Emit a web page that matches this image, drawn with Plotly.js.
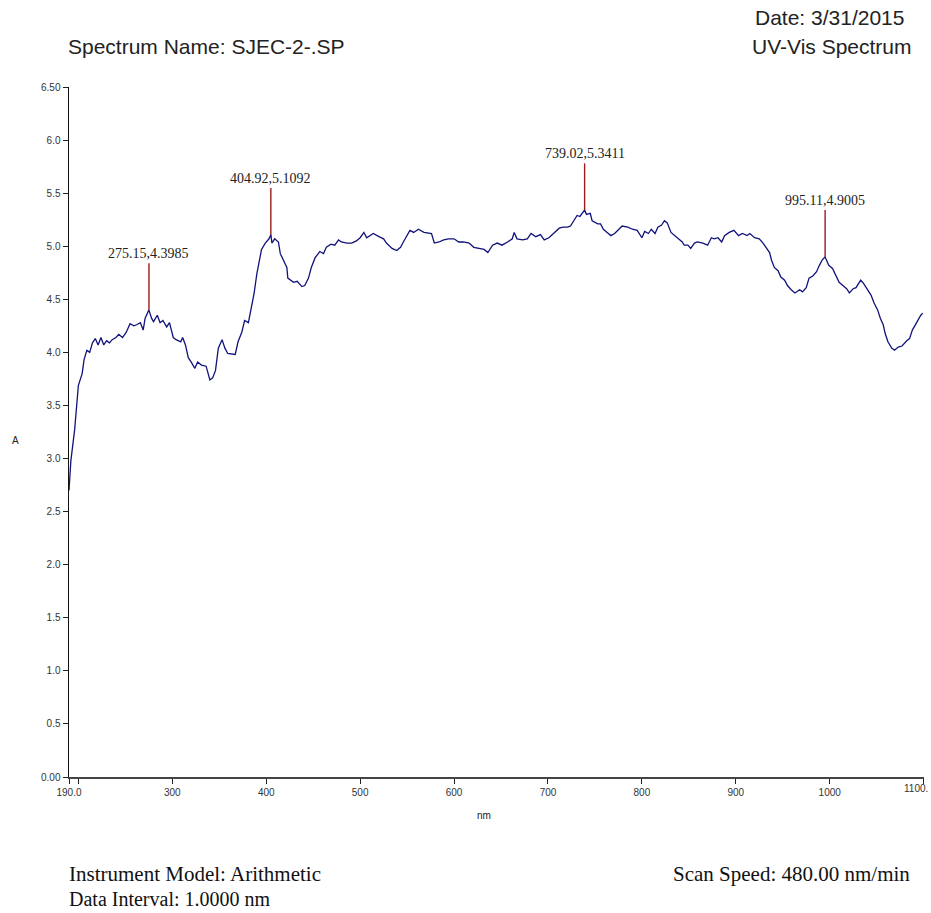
<!DOCTYPE html>
<html>
<head>
<meta charset="utf-8">
<script src="https://cdn.plot.ly/plotly-3.0.1.min.js"></script>
<style>html,body{margin:0;padding:0;background:#fff;}#chart{width:931px;height:913px;}</style>
</head>
<body>
<div id="chart"></div>
<script>
// Spectrum data (wavelength nm, absorbance A)
const wavelength = [190,191,192,196,198,200,204,206,209,212,215,218,221,224,227,230,233,236,240,243,247,251,255,259,262,266,269,271,275,278,280,284,287,290,294,297,301,304,309,311,314,317,320,324,327,331,336,340,343,346,349,353,356,359,367,370,374,377,381,384,387,390,393,395,399,403,405,406,409,413,415,418,422,423,429,433,438,441,445,448,452,457,461,464,469,473,477,480,486,491,496,500,504,507,514,520,525,528,534,539,543,546,550,553,557,562,568,573,576,579,584,589,594,600,605,610,616,621,626,632,636,641,646,651,657,662,664,667,673,678,682,687,692,696,701,706,712,716,721,724,727,731,734,739,741,745,747,753,756,759,763,767,771,776,779,785,790,795,800,803,807,810,814,817,821,824,827,831,835,840,843,845,849,852,856,859,865,870,874,877,881,885,888,893,898,903,907,912,915,920,925,929,932,936,938,941,945,948,952,955,959,963,968,971,975,978,982,986,989,992,995,999,1003,1007,1010,1014,1018,1021,1025,1028,1033,1036,1040,1044,1047,1051,1054,1057,1059,1062,1066,1069,1073,1077,1082,1085,1088,1091,1094,1097,1099];
const absorbance = [2.70,2.82,2.98,3.27,3.46,3.69,3.80,3.93,4.02,4.00,4.09,4.13,4.07,4.14,4.07,4.11,4.09,4.12,4.14,4.17,4.14,4.19,4.27,4.25,4.26,4.28,4.21,4.32,4.40,4.32,4.29,4.35,4.28,4.30,4.24,4.28,4.14,4.12,4.10,4.14,4.07,3.95,3.91,3.85,3.91,3.88,3.87,3.74,3.76,3.83,4.04,4.12,4.04,3.99,3.98,4.10,4.19,4.30,4.28,4.40,4.55,4.74,4.87,4.97,5.03,5.07,5.11,5.03,5.07,5.04,4.93,4.87,4.80,4.70,4.66,4.67,4.62,4.63,4.70,4.80,4.89,4.95,4.93,4.99,5.02,5.01,5.06,5.04,5.03,5.03,5.05,5.08,5.13,5.08,5.12,5.09,5.07,5.03,4.98,4.96,4.99,5.04,5.10,5.15,5.13,5.16,5.13,5.12,5.12,5.03,5.04,5.06,5.07,5.07,5.04,5.04,5.03,4.99,4.98,4.97,4.94,5.01,5.03,5.01,5.04,5.07,5.13,5.07,5.06,5.07,5.12,5.09,5.11,5.06,5.08,5.12,5.17,5.18,5.18,5.19,5.23,5.29,5.28,5.34,5.30,5.31,5.24,5.21,5.21,5.16,5.13,5.10,5.12,5.17,5.19,5.18,5.16,5.15,5.08,5.14,5.12,5.16,5.12,5.18,5.20,5.24,5.22,5.13,5.10,5.07,5.04,5.01,5.01,4.98,5.03,5.04,5.03,5.01,5.08,5.07,5.08,5.04,5.10,5.13,5.15,5.10,5.12,5.10,5.12,5.08,5.07,5.03,4.99,4.94,4.87,4.80,4.77,4.71,4.68,4.63,4.59,4.56,4.59,4.57,4.61,4.70,4.72,4.76,4.82,4.87,4.90,4.82,4.79,4.71,4.66,4.63,4.60,4.56,4.60,4.61,4.68,4.65,4.60,4.54,4.47,4.40,4.32,4.26,4.18,4.10,4.04,4.02,4.05,4.06,4.11,4.13,4.21,4.26,4.30,4.35,4.37];

// Labelled peaks
const peakNm = [275.15, 404.92, 739.02, 995.11];
const peakA  = [4.3985, 5.1092, 5.3411, 4.9005];

// Tick labels (the last one is drawn right-aligned at the page edge, as in the reference)
const xTickVals = [190,200,300,400,500,600,700,800,900,1000,1100];
const xTickText = ['190.0','','300','400','500','600','700','800','900','1000',''];
const xLastLabel = '1100.';
const yTickVals = [0,0.5,1.0,1.5,2.0,2.5,3.0,3.5,4.0,4.5,5.0,5.5,6.0,6.5];
const yTickText = ['0.00','0.5','1.0','1.5','2.0','2.5','3.0','3.5','4.0','4.5','5.0','5.5','6.0','6.50'];

const STEM = 0.44;
const sans = 'Liberation Sans, Arial, sans-serif';
const serif = 'Liberation Serif, Times New Roman, serif';

const trace = {
  x: wavelength, y: absorbance, type: 'scatter', mode: 'lines',
  line: {color: '#12127a', width: 1.3}, hoverinfo: 'x+y', cliponaxis: false
};

const shapes = peakNm.map((nm, i) => ({
  type: 'line', xref: 'x', yref: 'y',
  x0: nm, x1: nm, y0: peakA[i], y1: peakA[i] + STEM,
  line: {color: '#9b1c1c', width: 1.4}
}));

const annotations = peakNm.map((nm, i) => ({
  xref: 'x', yref: 'y', x: nm, y: peakA[i] + STEM,
  text: nm.toFixed(2) + ',' + peakA[i].toFixed(4),
  showarrow: false, xanchor: 'center', yanchor: 'bottom', yshift: 0,
  font: {family: serif, size: 14, color: '#222'}
}));

const W = 931, H = 913, L = 69, R = 7, T = 87, B = 136;
const pw = W - L - R, ph = H - T - B;
const px = x => (x - L) / pw;
const py = y => (H - B - y) / ph;

annotations.push(
  {xref:'paper', yref:'paper', x: px(930), y: py(789), xanchor:'right', yanchor:'middle', showarrow:false,
   text: xLastLabel, font:{family:sans, size:10, color:'#333'}},
  {xref:'paper', yref:'paper', x: px(66), y: py(46), xanchor:'left', yanchor:'middle', showarrow:false,
   text:'Spectrum Name: SJEC-2-.SP', font:{family:sans, size:21, color:'#222'}},
  {xref:'paper', yref:'paper', x: px(906), y: py(18), xanchor:'right', yanchor:'middle', showarrow:false,
   text:'Date: 3/31/2015', font:{family:sans, size:21, color:'#222'}},
  {xref:'paper', yref:'paper', x: px(914), y: py(46), xanchor:'right', yanchor:'middle', showarrow:false,
   text:'UV-Vis Spectrum', font:{family:sans, size:21, color:'#222'}},
  {xref:'paper', yref:'paper', x: px(15), y: py(440), xanchor:'center', yanchor:'middle', showarrow:false,
   text:'A', font:{family:sans, size:10, color:'#222'}},
  {xref:'paper', yref:'paper', x: px(484), y: py(815), xanchor:'center', yanchor:'middle', showarrow:false,
   text:'nm', font:{family:sans, size:10, color:'#222'}},
  {xref:'paper', yref:'paper', x: px(67), y: py(874), xanchor:'left', yanchor:'middle', showarrow:false,
   text:'Instrument Model: Arithmetic', font:{family:serif, size:21, color:'#111'}},
  {xref:'paper', yref:'paper', x: px(67), y: py(899), xanchor:'left', yanchor:'middle', showarrow:false,
   text:'Data Interval: 1.0000 nm', font:{family:serif, size:20, color:'#111'}},
  {xref:'paper', yref:'paper', x: px(912), y: py(874), xanchor:'right', yanchor:'middle', showarrow:false,
   text:'Scan Speed: 480.00 nm/min', font:{family:serif, size:21, color:'#111'}}
);

const layout = {
  width: W, height: H,
  margin: {l: L, r: R, t: T, b: B, pad: 0},
  paper_bgcolor: '#fff', plot_bgcolor: '#fff',
  showlegend: false,
  xaxis: {
    range: [190, 1100.4], showgrid: false, zeroline: false,
    showline: true, linecolor: '#444', linewidth: 2,
    ticks: 'outside', ticklen: 5, tickwidth: 1, tickcolor: '#222',
    tickmode: 'array', tickvals: xTickVals, ticktext: xTickText,
    tickfont: {family: sans, size: 10, color: '#333'}
  },
  yaxis: {
    range: [0, 6.5], showgrid: false, zeroline: false,
    showline: true, linecolor: '#111', linewidth: 1.5,
    ticks: 'outside', ticklen: 5, tickwidth: 1, tickcolor: '#222',
    tickmode: 'array', tickvals: yTickVals, ticktext: yTickText,
    tickfont: {family: sans, size: 10, color: '#333'}
  },
  shapes: shapes,
  annotations: annotations
};

Plotly.newPlot('chart', [trace], layout, {displayModeBar: false, staticPlot: true});
</script>
</body>
</html>
